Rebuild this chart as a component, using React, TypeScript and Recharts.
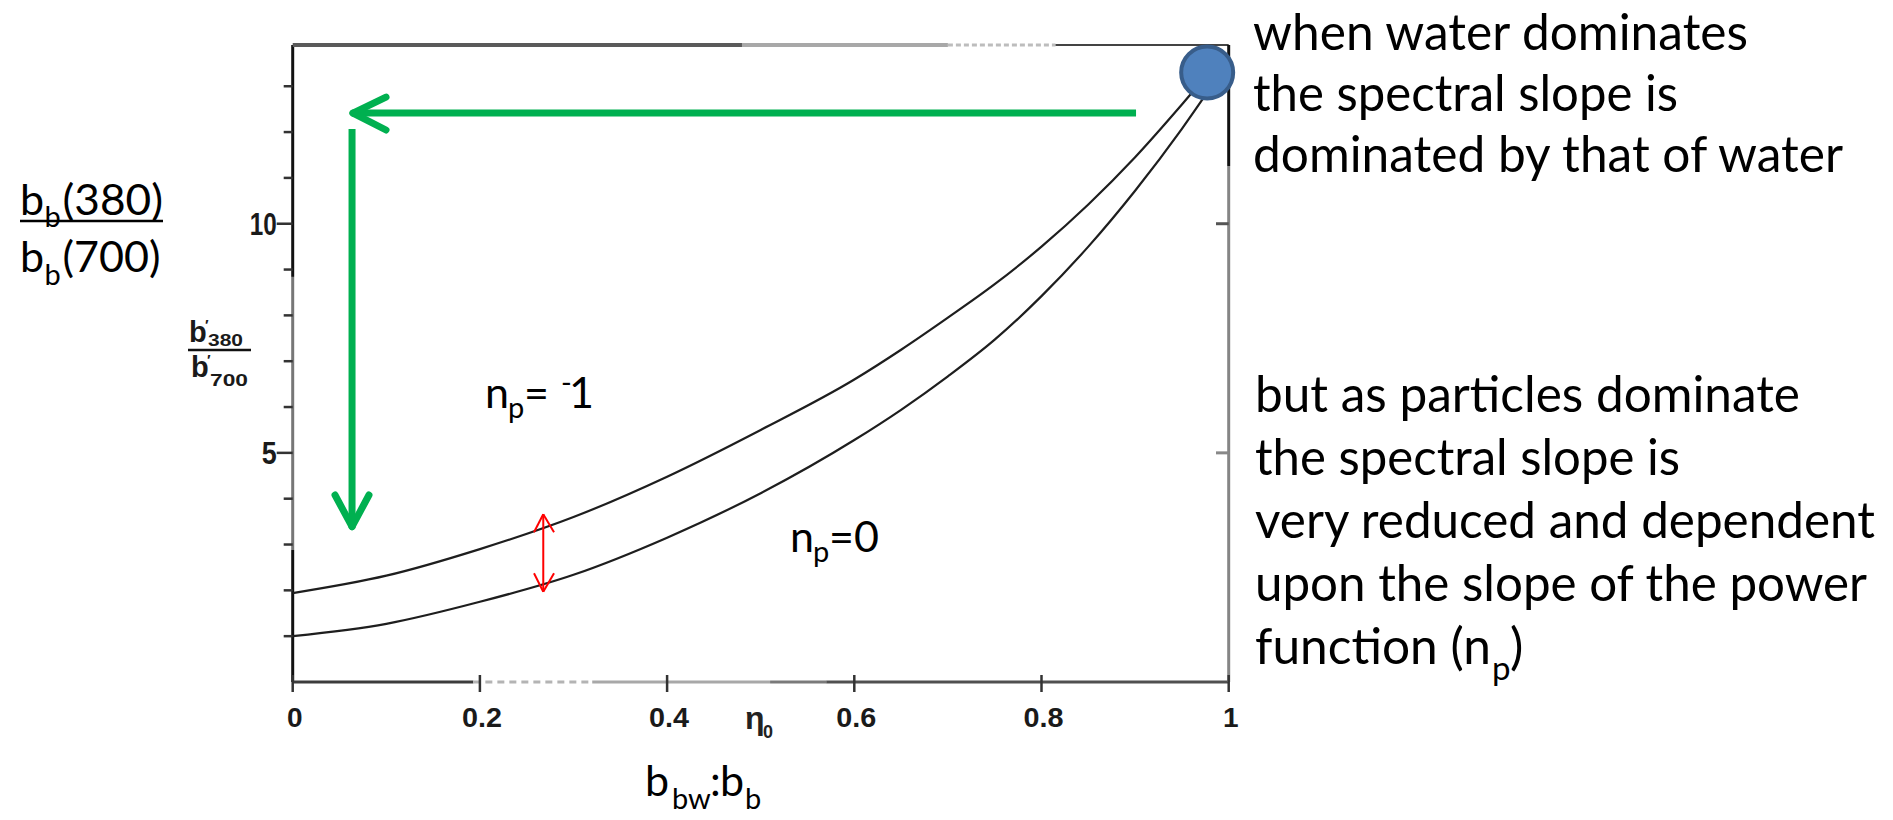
import React from 'react';
import { LineChart, Line, XAxis, YAxis, ReferenceLine, ReferenceDot } from 'recharts';

// b_bw : b_b (fraction of backscattering due to water)
const etaValues = [0, 0.1, 0.2, 0.3, 0.4, 0.5, 0.6, 0.65, 0.7, 0.75, 0.8, 0.85, 0.9, 0.95, 0.975];
// b_b(380) / b_b(700) for particle power-law slope n_p = -1
const ratioNpMinus1 = [1.94, 2.32, 2.9, 3.6, 4.48, 5.5, 6.6, 7.25, 7.95, 8.68, 9.5, 10.42, 11.45, 12.6, 13.2];
// b_b(380) / b_b(700) for particle power-law slope n_p = 0
const ratioNpZero = [1.0, 1.27, 1.75, 2.34, 3.15, 4.12, 5.28, 5.94, 6.67, 7.47, 8.42, 9.5, 10.72, 12.07, 12.8];

const xTicks = [0, 0.2, 0.4, 0.6, 0.8, 1];
const xTickLabels = ['0', '0.2', '0.4', '0.6', '0.8', '1'];
const yTicks = [1, 2, 3, 4, 5, 6, 7, 8, 9, 10, 11, 12, 13];
const yLabelledTicks = [5, 10];
const Y_MAX = 13.9;

const waterNote = ['when water dominates', 'the spectral slope is', 'dominated by that of water'];
const waterNoteWidths = [495, 425, 590];
const waterNoteBaselines = [50, 111, 172];
const particleNote = ['but as particles dominate', 'the spectral slope is', 'very reduced and dependent', 'upon the slope of the power'];
const particleNoteWidths = [545, 425, 620, 612];

const data = etaValues.map((eta, i) => ({
  eta,
  npMinus1: ratioNpMinus1[i],
  npZero: ratioNpZero[i],
}));

const W = 1893;
const H = 820;
const scanFont = '"Liberation Sans", Arial, sans-serif';
const noteFont = 'Lato, "Open Sans", sans-serif';
const GREEN = '#00B050';
const RED = '#FF0000';

type Pt = { x: number; y: number };
const seg = (a: Pt, b: Pt): [Pt, Pt] => [a, b];

// annotation arrows (data coordinates)
const leftArrowTip = { x: 0.0644, y: 12.415 };
const downArrowTip = { x: 0.0634, y: 3.389 };
const gapTop = { x: 0.2677, y: 3.659 };
const gapBottom = { x: 0.2677, y: 1.97 };

const XTick = (props: any) => {
  const { x, y, payload, index } = props;
  const label = xTickLabels[index] ?? String(payload.value);
  return (
    <g>
      <line x1={x} x2={x} y1={y - 7} y2={y + 10} stroke="#333" strokeWidth={2.5} />
      <text
        x={x + 2}
        y={y + 45}
        textAnchor="middle"
        fontFamily={scanFont}
        fontWeight="bold"
        fontSize={28}
        fill="#1a1a1a"
        textLength={label.length > 1 ? 40 : undefined}
        lengthAdjust="spacingAndGlyphs"
      >
        {label}
      </text>
    </g>
  );
};

const YTick = (props: any) => {
  const { x, y, payload } = props;
  const major = yLabelledTicks.includes(payload.value);
  return (
    <g>
      <line x1={x - (major ? 16 : 9)} x2={x} y1={y} y2={y} stroke="#333" strokeWidth={2.5} />
      {major && (
        <text
          x={x - 16}
          y={y + 11}
          textAnchor="end"
          fontFamily={scanFont}
          fontWeight="bold"
          fontSize={31}
          fill="#1a1a1a"
          textLength={payload.value >= 10 ? 27 : 15}
          lengthAdjust="spacingAndGlyphs"
        >
          {payload.value}
        </text>
      )}
    </g>
  );
};

export default function App() {
  return (
    <div style={{ position: 'absolute', left: 0, top: 0, width: W, height: H, background: '#fff' }}>
      <LineChart
        width={W}
        height={H}
        data={data}
        margin={{ top: 45, right: 664.3, bottom: 98, left: 252.7 }}
      >
        <XAxis
          dataKey="eta"
          type="number"
          domain={[0, 1]}
          ticks={xTicks}
          height={40}
          axisLine={false}
          tickLine={false}
          tickSize={0}
          tickMargin={0}
          tick={<XTick />}
          interval={0}
        />
        <YAxis
          type="number"
          domain={[0, Y_MAX]}
          ticks={yTicks}
          width={40}
          axisLine={false}
          tickLine={false}
          tickSize={0}
          tickMargin={0}
          tick={<YTick />}
          interval={0}
        />

        {/* frame: left axis */}
        <ReferenceLine segment={seg({ x: 0, y: Y_MAX }, { x: 0, y: 8.84 })} stroke="#111" strokeWidth={3} />
        <ReferenceLine segment={seg({ x: 0, y: 8.84 }, { x: 0, y: 2.88 })} stroke="#777" strokeWidth={3} />
        <ReferenceLine segment={seg({ x: 0, y: 2.88 }, { x: 0, y: 0 })} stroke="#111" strokeWidth={3} />
        {/* frame: bottom axis */}
        <ReferenceLine segment={seg({ x: 0, y: 0 }, { x: 0.193, y: 0 })} stroke="#3c3c3c" strokeWidth={3} />
        <ReferenceLine segment={seg({ x: 0.193, y: 0 }, { x: 0.32, y: 0 })} stroke="#b4b4b4" strokeWidth={3} strokeDasharray="7 5" />
        <ReferenceLine segment={seg({ x: 0.32, y: 0 }, { x: 0.51, y: 0 })} stroke="#a8a8a8" strokeWidth={3} />
        <ReferenceLine segment={seg({ x: 0.51, y: 0 }, { x: 0.57, y: 0 })} stroke="#7a7a7a" strokeWidth={3} />
        <ReferenceLine segment={seg({ x: 0.57, y: 0 }, { x: 1, y: 0 })} stroke="#505050" strokeWidth={3} />
        {/* frame: top border */}
        <ReferenceLine segment={seg({ x: 0, y: Y_MAX }, { x: 0.48, y: Y_MAX })} stroke="#5a5a5a" strokeWidth={4} />
        <ReferenceLine segment={seg({ x: 0.48, y: Y_MAX }, { x: 0.7, y: Y_MAX })} stroke="#a8a8a8" strokeWidth={4} />
        <ReferenceLine segment={seg({ x: 0.7, y: Y_MAX }, { x: 0.815, y: Y_MAX })} stroke="#bdbdbd" strokeWidth={3} strokeDasharray="5 3" />
        <ReferenceLine segment={seg({ x: 0.815, y: Y_MAX }, { x: 1, y: Y_MAX })} stroke="#444" strokeWidth={2} />
        {/* frame: right border */}
        <ReferenceLine segment={seg({ x: 1, y: Y_MAX }, { x: 1, y: 11.26 })} stroke="#111" strokeWidth={3} />
        <ReferenceLine segment={seg({ x: 1, y: 11.26 }, { x: 1, y: 0 })} stroke="#858585" strokeWidth={3} />
        <ReferenceLine segment={seg({ x: 0.9864, y: 10 }, { x: 1, y: 10 })} stroke="#555" strokeWidth={3} />
        <ReferenceLine segment={seg({ x: 0.9864, y: 5 }, { x: 1, y: 5 })} stroke="#888" strokeWidth={3} />

        <Line
          dataKey="npMinus1"
          type="monotone"
          stroke="#1e1e1e"
          strokeWidth={2.2}
          dot={false}
          activeDot={false}
          isAnimationActive={false}
        />
        <Line
          dataKey="npZero"
          type="monotone"
          stroke="#1e1e1e"
          strokeWidth={2.2}
          dot={false}
          activeDot={false}
          isAnimationActive={false}
        />

        {/* green arrows: water-dominated end towards particle-dominated end */}
        <ReferenceLine segment={seg({ x: 0.901, y: 12.415 }, leftArrowTip)} stroke={GREEN} strokeWidth={7} />
        <ReferenceLine segment={seg({ x: 0.0997, y: 12.764 }, leftArrowTip)} stroke={GREEN} strokeWidth={7} strokeLinecap="round" />
        <ReferenceLine segment={seg({ x: 0.0997, y: 12.045 }, leftArrowTip)} stroke={GREEN} strokeWidth={7} strokeLinecap="round" />
        <ReferenceLine segment={seg({ x: 0.0634, y: 12.066 }, { x: 0.0634, y: 3.5 })} stroke={GREEN} strokeWidth={7} />
        <ReferenceLine segment={seg({ x: 0.0452, y: 4.08 }, downArrowTip)} stroke={GREEN} strokeWidth={7} strokeLinecap="round" />
        <ReferenceLine segment={seg({ x: 0.0815, y: 4.08 }, downArrowTip)} stroke={GREEN} strokeWidth={7} strokeLinecap="round" />

        {/* red double arrow: gap between the two curves */}
        <ReferenceLine segment={seg(gapTop, gapBottom)} stroke={RED} strokeWidth={2} />
        <ReferenceLine segment={seg({ x: 0.2578, y: 3.266 }, gapTop)} stroke={RED} strokeWidth={2} />
        <ReferenceLine segment={seg({ x: 0.2792, y: 3.266 }, gapTop)} stroke={RED} strokeWidth={2} />
        <ReferenceLine segment={seg({ x: 0.2578, y: 2.372 }, gapBottom)} stroke={RED} strokeWidth={2} />
        <ReferenceLine segment={seg({ x: 0.2792, y: 2.372 }, gapBottom)} stroke={RED} strokeWidth={2} />

        <ReferenceDot x={0.977} y={13.3} r={26} fill="#4F81BD" stroke="#385D8A" strokeWidth={4} />
      </LineChart>

      <svg
        width={W}
        height={H}
        style={{ position: 'absolute', left: 0, top: 0, pointerEvents: 'none' }}
      >
        {/* y-axis title */}
        <g fontFamily={noteFont} fill="#000">
          <text x={20} y={215} fontSize={43}>b</text>
          <text x={44.6} y={227} fontSize={29}>b</text>
          <text x={62.5} y={215} fontSize={43} textLength={100.5} lengthAdjust="spacingAndGlyphs">(380)</text>
          <line x1={20} x2={163} y1={221} y2={221} stroke="#000" strokeWidth={2.5} />
          <text x={20} y={272} fontSize={43}>b</text>
          <text x={44.6} y={285} fontSize={29}>b</text>
          <text x={62.5} y={272} fontSize={43} textLength={98} lengthAdjust="spacingAndGlyphs">(700)</text>
        </g>

        {/* original axis label b'380 / b'700 */}
        <g fontFamily={scanFont} fontWeight="bold" fill="#1a1a1a">
          <text x={189} y={342} fontSize={29}>b</text>
          <text x={205} y={330} fontSize={15}>′</text>
          <text x={208} y={346} fontSize={17} textLength={35} lengthAdjust="spacingAndGlyphs">380</text>
          <line x1={188} x2={251} y1={350} y2={350} stroke="#111" strokeWidth={2.5} />
          <text x={191} y={377} fontSize={29}>b</text>
          <text x={207} y={365} fontSize={15}>′</text>
          <text x={210} y={386} fontSize={17} textLength={38} lengthAdjust="spacingAndGlyphs">700</text>
        </g>

        {/* original x-axis symbol */}
        <g fontFamily={scanFont} fill="#222" fontWeight="bold">
          <text x={745} y={729} fontSize={32}>η</text>
          <text x={763} y={738} fontSize={18}>0</text>
        </g>

        {/* x-axis title */}
        <g fontFamily={noteFont} fill="#000">
          <text x={645} y={796} fontSize={43}>b</text>
          <text x={672} y={809} fontSize={29}>bw</text>
          <text x={710} y={796} fontSize={43}>:</text>
          <text x={720} y={796} fontSize={43}>b</text>
          <text x={745} y={809} fontSize={29}>b</text>
        </g>

        {/* curve labels */}
        <g fontFamily={noteFont} fill="#000">
          <text x={485} y={408} fontSize={43}>n</text>
          <text x={508} y={418} fontSize={29}>p</text>
          <text x={524} y={408} fontSize={43}>=</text>
          <text x={561} y={393} fontSize={29}>-</text>
          <text x={569} y={408} fontSize={43}>1</text>

          <text x={790} y={552} fontSize={43}>n</text>
          <text x={813} y={562} fontSize={29}>p</text>
          <text x={829} y={552} fontSize={43}>=0</text>
        </g>

        {/* explanatory notes */}
        <g fontFamily={noteFont} fill="#000" fontSize={50}>
          {waterNote.map((line, i) => (
            <text
              key={`w${i}`}
              x={1253}
              y={waterNoteBaselines[i]}
              textLength={waterNoteWidths[i]}
              lengthAdjust="spacingAndGlyphs"
            >
              {line}
            </text>
          ))}
          {particleNote.map((line, i) => (
            <text
              key={`p${i}`}
              x={1255}
              y={412 + i * 63}
              textLength={particleNoteWidths[i]}
              lengthAdjust="spacingAndGlyphs"
            >
              {line}
            </text>
          ))}
          <text x={1255} y={664} textLength={236} lengthAdjust="spacingAndGlyphs">function (n</text>
          <text x={1492} y={680} fontSize={33}>p</text>
          <text x={1510} y={664}>)</text>
        </g>
      </svg>
    </div>
  );
}
